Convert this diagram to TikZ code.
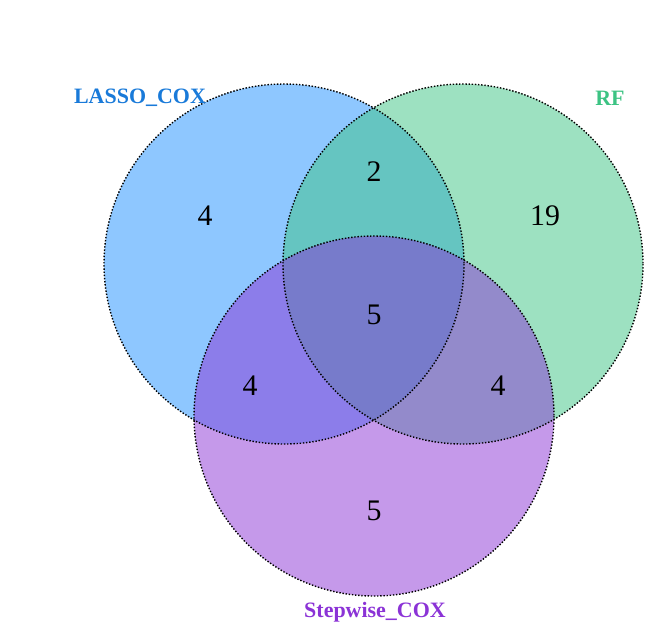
\documentclass[tikz,border=0pt]{standalone}
\usepackage{fontspec}
\setmainfont{Liberation Serif}
\definecolor{lassoblue}{HTML}{1E90FF}
\definecolor{rfgreen}{HTML}{3CC383}
\definecolor{stepviolet}{HTML}{8B33D6}
\begin{document}
\begin{tikzpicture}
			[
			x=0.02cm, y=-0.02cm,
			setrand/.style={draw=black, thick, densely dotted, fill opacity=0.5},
			zahl/.style={font=\fontsize{17}{20}\selectfont},
			titel/.style={font=\fontsize{12.5}{15}\selectfont\bfseries}
			]
			\useasboundingbox (0,0) rectangle (655,633);
			
			%Mengen
			\fill [lassoblue, opacity=0.5] (284,264) circle (180);
			\fill [rfgreen, opacity=0.5] (463,264) circle (180);
			\fill [stepviolet, opacity=0.5] (374,416) circle (180);
			\draw [setrand] (284,264) circle (180);
			\draw [setrand] (463,264) circle (180);
			\draw [setrand] (374,416) circle (180);
			
			%Beschriftung der Mengen
			\node [titel, text=lassoblue!85!black] (lasso) at (140,98) {LASSO\_COX};
			\node [titel, text=rfgreen] (rf) at (610,98) {RF};
			\node [titel, text=stepviolet] (stepwise) at (375,612) {Stepwise\_COX};
			
			%Anzahlen
			\node [zahl] (nA) at (205,216) {4};
			\node [zahl] (nAB) at (374,172) {2};
			\node [zahl] (nB) at (545,216) {19};
			\node [zahl] (nABC) at (374,315) {5};
			\node [zahl] (nAC) at (250,386) {4};
			\node [zahl] (nBC) at (498,386) {4};
			\node [zahl] (nC) at (374,511) {5};
		\end{tikzpicture}
\end{document}
